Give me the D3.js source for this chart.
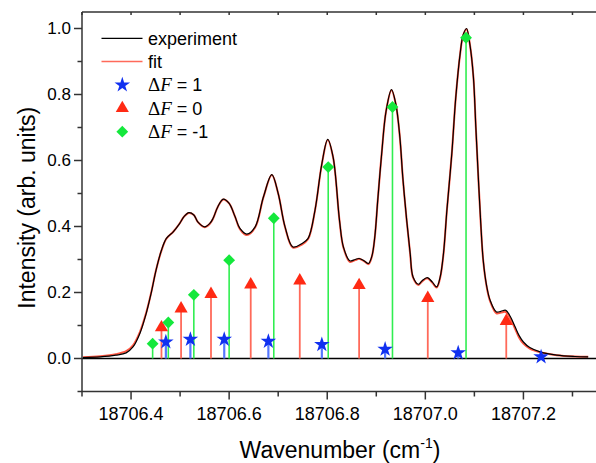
<!DOCTYPE html>
<html>
<head>
<meta charset="utf-8">
<script src="https://cdn.jsdelivr.net/npm/d3@7"></script>
<style>
  body { margin: 0; background: #fff; overflow: hidden; }
  svg { display: block; font-family: "Liberation Sans", Arial, sans-serif; }
</style>
</head>
<body>
<svg id="chart" width="596" height="463"></svg>
<script>
// ---- data ----
const wavenumber = [
  18706.302, 18706.337, 18706.369, 18706.390, 18706.404, 18706.418, 18706.431, 18706.441,
  18706.451, 18706.462, 18706.472, 18706.486, 18706.499, 18706.508, 18706.518, 18706.528,
  18706.536, 18706.550, 18706.561, 18706.567, 18706.577, 18706.588, 18706.600, 18706.612,
  18706.622, 18706.636, 18706.653, 18706.670, 18706.687, 18706.700, 18706.714, 18706.730,
  18706.748, 18706.761, 18706.775, 18706.789, 18706.801, 18706.812, 18706.825, 18706.833,
  18706.846, 18706.857, 18706.865, 18706.875, 18706.884, 18706.891, 18706.897, 18706.903,
  18706.911, 18706.920, 18706.931, 18706.940, 18706.948, 18706.954, 18706.962, 18706.969,
  18706.975, 18706.986, 18706.993, 18707.004, 18707.014, 18707.023, 18707.030, 18707.037,
  18707.044, 18707.054, 18707.062, 18707.071, 18707.077, 18707.084, 18707.091, 18707.098,
  18707.103, 18707.108, 18707.113, 18707.118, 18707.125, 18707.132, 18707.145, 18707.154,
  18707.164, 18707.173, 18707.183, 18707.191, 18707.200, 18707.213, 18707.234, 18707.268,
  18707.305, 18707.332
];
const experiment = [
  0.003, 0.005, 0.010, 0.017, 0.035, 0.076, 0.137, 0.198,
  0.268, 0.328, 0.364, 0.384, 0.409, 0.430, 0.442, 0.435,
  0.414, 0.399, 0.410, 0.424, 0.460, 0.483, 0.470, 0.430,
  0.394, 0.377, 0.399, 0.490, 0.557, 0.500, 0.399, 0.338,
  0.348, 0.364, 0.449, 0.590, 0.664, 0.610, 0.419, 0.338,
  0.296, 0.300, 0.303, 0.296, 0.288, 0.310, 0.369, 0.480,
  0.621, 0.750, 0.815, 0.770, 0.672, 0.550, 0.419, 0.320,
  0.247, 0.225, 0.235, 0.245, 0.232, 0.217, 0.245, 0.318,
  0.450, 0.621, 0.790, 0.924, 0.980, 1.000, 0.950, 0.853,
  0.700, 0.550, 0.410, 0.298, 0.220, 0.177, 0.141, 0.143,
  0.146, 0.128, 0.096, 0.070, 0.050, 0.033, 0.020, 0.010,
  0.006, 0.005
];
const fit = [
  0.004, 0.007, 0.013, 0.022, 0.040, 0.080, 0.139, 0.199,
  0.268, 0.327, 0.363, 0.384, 0.409, 0.430, 0.441, 0.435,
  0.414, 0.398, 0.409, 0.423, 0.460, 0.482, 0.470, 0.430,
  0.392, 0.374, 0.397, 0.489, 0.556, 0.500, 0.398, 0.336,
  0.345, 0.362, 0.448, 0.589, 0.662, 0.609, 0.418, 0.336,
  0.293, 0.298, 0.302, 0.295, 0.286, 0.309, 0.368, 0.480,
  0.621, 0.750, 0.813, 0.769, 0.671, 0.549, 0.418, 0.318,
  0.245, 0.223, 0.233, 0.243, 0.230, 0.215, 0.243, 0.317,
  0.450, 0.621, 0.790, 0.923, 0.979, 0.998, 0.950, 0.853,
  0.700, 0.549, 0.409, 0.297, 0.218, 0.174, 0.137, 0.139,
  0.141, 0.122, 0.090, 0.064, 0.045, 0.030, 0.019, 0.010,
  0.006, 0.005
];

// stick positions and heights
const dF1Pos = [18706.471, 18706.521, 18706.590, 18706.680, 18706.789, 18706.918, 18707.067, 18707.236];
const dF1Val = [0.050, 0.058, 0.058, 0.052, 0.042, 0.028, 0.017, 0.005];
const dF0Pos = [18706.462, 18706.502, 18706.563, 18706.644, 18706.744, 18706.865, 18707.005, 18707.165];
const dF0Val = [0.094, 0.151, 0.195, 0.224, 0.236, 0.222, 0.183, 0.113];
const dFm1Pos = [18706.444, 18706.476, 18706.528, 18706.600, 18706.691, 18706.802, 18706.933, 18707.083];
const dFm1Val = [0.045, 0.109, 0.193, 0.298, 0.425, 0.580, 0.762, 0.972];

const xMajorTicks = [18706.4, 18706.6, 18706.8, 18707.0, 18707.2];
const xMinorTicks = [18706.3, 18706.5, 18706.7, 18706.9, 18707.1, 18707.3];
const yMajorTicks = [0.0, 0.2, 0.4, 0.6, 0.8, 1.0];
const yMinorTicks = [-0.1, 0.1, 0.3, 0.5, 0.7, 0.9];

// ---- layout ----
const svg = d3.select('#chart');
const plotL = 82, plotR = 597, plotT = 12, plotB = 391.5;

const x = d3.scaleLinear().domain([18706.3, 18707.35]).range([plotL, plotR]);
const y = d3.scaleLinear().domain([-0.1, 1.05]).range([plotB, plotT]);

const axisColor = '#333';

// curves
const line = (vals) => d3.line()
  .x((d, i) => x(wavenumber[i]))
  .y(d => y(d))
  .curve(d3.curveCatmullRom.alpha(0.5))(vals);

svg.append('path')
  .attr('d', line(fit))
  .attr('fill', 'none')
  .attr('stroke', '#ff2a10')
  .attr('stroke-opacity', 0.8)
  .attr('stroke-width', 2);

svg.append('path')
  .attr('d', line(experiment))
  .attr('fill', 'none')
  .attr('stroke', '#000')
  .attr('stroke-width', 1.2);

// zero line
svg.append('line')
  .attr('x1', plotL).attr('x2', plotR)
  .attr('y1', y(0)).attr('y2', y(0))
  .attr('stroke', '#000').attr('stroke-width', 1.5);

// sticks (diamond = square turned 45deg)
const series = [
  { pos: dF1Pos, val: dF1Val, stem: '#5577ff', fill: '#1030f0', shape: d3.symbolStar, size: 75, rot: 0, stemW: 2.2 },
  { pos: dF0Pos, val: dF0Val, stem: '#ff6a5a', fill: '#ff2a14', shape: d3.symbolTriangle, size: 75, rot: 0, stemW: 1.8 },
  { pos: dFm1Pos, val: dFm1Val, stem: '#30ee50', fill: '#14e83c', shape: d3.symbolSquare, size: 70, rot: 45, stemW: 1.6 }
];

series.forEach(s => {
  svg.append('g').selectAll('line').data(s.pos).join('line')
    .attr('x1', d => x(d)).attr('x2', d => x(d))
    .attr('y1', y(0)).attr('y2', (d, i) => y(s.val[i]))
    .attr('stroke', s.stem).attr('stroke-width', s.stemW);
});
series.forEach(s => {
  svg.append('g').selectAll('path').data(s.pos).join('path')
    .attr('transform', (d, i) => `translate(${x(d)},${y(s.val[i])}) rotate(${s.rot})`)
    .attr('d', d3.symbol().type(s.shape).size(s.size))
    .attr('fill', s.fill);
});

// ---- axes ----
const frame = svg.append('g').attr('stroke', axisColor).attr('stroke-width', 1.5);
frame.append('line').attr('x1', plotL).attr('x2', plotL).attr('y1', plotT).attr('y2', plotB);
frame.append('line').attr('x1', plotL).attr('x2', plotR).attr('y1', plotB).attr('y2', plotB);
frame.append('line').attr('x1', plotL).attr('x2', plotR).attr('y1', plotT).attr('y2', plotT);

// bottom ticks
const xAxis = svg.append('g').attr('transform', `translate(0,${plotB})`);
xAxis.selectAll('.maj').data(xMajorTicks).join('line')
  .attr('x1', d => x(d)).attr('x2', d => x(d)).attr('y1', 0).attr('y2', 8)
  .attr('stroke', axisColor).attr('stroke-width', 1.5);
xAxis.selectAll('.min').data(xMinorTicks).join('line')
  .attr('x1', d => x(d)).attr('x2', d => x(d)).attr('y1', 0).attr('y2', 5)
  .attr('stroke', axisColor).attr('stroke-width', 1.5);
xAxis.selectAll('text').data(xMajorTicks).join('text')
  .attr('x', d => x(d)).attr('y', 28)
  .attr('text-anchor', 'middle')
  .attr('font-size', 18)
  .text(d => d.toFixed(1));

// top ticks (inward)
svg.append('g').selectAll('line').data(xMajorTicks.concat(xMinorTicks)).join('line')
  .attr('x1', d => x(d)).attr('x2', d => x(d)).attr('y1', plotT).attr('y2', plotT + 3)
  .attr('stroke', axisColor).attr('stroke-width', 1.5);

// left ticks
const yAxis = svg.append('g').attr('transform', `translate(${plotL},0)`);
yAxis.selectAll('.maj').data(yMajorTicks).join('line')
  .attr('x1', -8).attr('x2', 0).attr('y1', d => y(d)).attr('y2', d => y(d))
  .attr('stroke', axisColor).attr('stroke-width', 1.5);
yAxis.selectAll('.min').data(yMinorTicks).join('line')
  .attr('x1', -4.5).attr('x2', 0).attr('y1', d => y(d)).attr('y2', d => y(d))
  .attr('stroke', axisColor).attr('stroke-width', 1.5);
yAxis.selectAll('text').data(yMajorTicks).join('text')
  .attr('x', -11).attr('y', d => y(d))
  .attr('dy', '0.35em')
  .attr('text-anchor', 'end')
  .attr('font-size', 17)
  .text(d => d.toFixed(1));

// axis titles
svg.append('text')
  .attr('transform', `translate(35,${(plotT + plotB) / 2 + 6}) rotate(-90)`)
  .attr('text-anchor', 'middle')
  .attr('font-size', 23)
  .text('Intensity (arb. units)');

const xt = svg.append('text')
  .attr('x', 340).attr('y', 458)
  .attr('text-anchor', 'middle')
  .attr('font-size', 23);
xt.append('tspan').text('Wavenumber (cm');
xt.append('tspan').attr('font-size', 14).attr('dy', -10).text('-1');
xt.append('tspan').attr('dy', 10).text(')');

// ---- legend ----
const lg = svg.append('g').attr('font-size', 18);
const rowY = [38.3, 61.5, 85, 108.3, 131.7];
lg.append('line').attr('x1', 101.5).attr('x2', 142.5).attr('y1', rowY[0]).attr('y2', rowY[0])
  .attr('stroke', '#000').attr('stroke-width', 1.3);
lg.append('line').attr('x1', 101.5).attr('x2', 142.5).attr('y1', rowY[1]).attr('y2', rowY[1])
  .attr('stroke', '#ff6a5a').attr('stroke-width', 1.6);
lg.append('text').attr('x', 148).attr('y', rowY[0]).attr('dy', '0.35em').text('experiment');
lg.append('text').attr('x', 148).attr('y', rowY[1]).attr('dy', '0.35em').text('fit');

const legendLabels = ['1', '0', '-1'];
series.forEach((s, i) => {
  const yy = rowY[i + 2];
  lg.append('path')
    .attr('transform', `translate(122.3,${yy}) rotate(${s.rot})`)
    .attr('d', d3.symbol().type(s.shape).size(s.size))
    .attr('fill', s.fill);
  const t = lg.append('text').attr('x', 148).attr('y', yy).attr('dy', '0.35em');
  t.append('tspan').attr('font-family', '"Liberation Serif", "Times New Roman", serif').attr('font-size', 19).text('Δ');
  t.append('tspan').attr('font-family', '"Liberation Serif", "Times New Roman", serif').attr('font-style', 'italic').attr('font-size', 19).text('F');
  t.append('tspan').text(' = ' + legendLabels[i]);
});
</script>
</body>
</html>
